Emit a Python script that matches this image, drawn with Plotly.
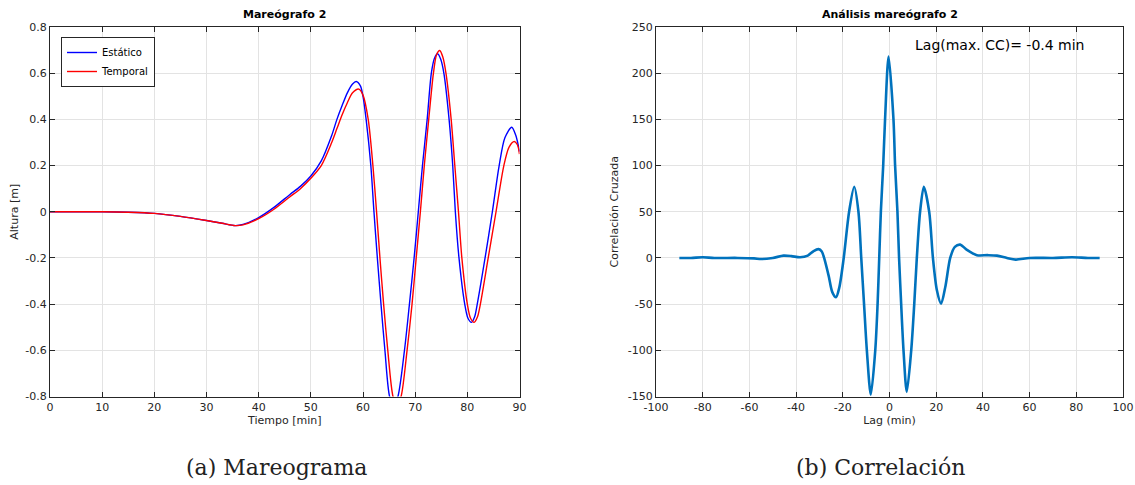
import plotly.graph_objects as go

# ---------------- data: left panel (Mareograma) ----------------
t_estatico = [0, 5, 10, 15, 20, 25, 30, 33, 35.5, 37, 40, 43, 46, 48, 50, 52, 54, 55, 56, 57, 58,
              58.7, 59.5, 60, 60.6, 61.5, 62.1, 62.75, 63.45, 64.2, 65.1, 65.9, 66.7, 67.95, 68.9,
              69.8, 70.6, 71.4, 72.3, 73.1, 73.7, 74.3, 74.9, 75.5, 76.5, 77.2, 77.7, 78.4, 79.5,
              80.1, 80.8, 81.4, 81.9, 83.4, 84.8, 86.1, 87.2, 88.5, 89.3, 90]
h_estatico = [0, 0, 0, -0.002, -0.007, -0.02, -0.038, -0.05, -0.06, -0.055, -0.025, 0.02, 0.075,
              0.11, 0.155, 0.22, 0.33, 0.4, 0.46, 0.515, 0.553, 0.564, 0.545, 0.5, 0.4, 0.2, 0.0,
              -0.2, -0.4, -0.6, -0.8, -0.84, -0.8, -0.6, -0.4, -0.2, 0.0, 0.2, 0.4, 0.6, 0.665,
              0.684, 0.66, 0.6, 0.4, 0.2, 0.0, -0.2, -0.4, -0.46, -0.479, -0.455, -0.4, -0.2, 0.0,
              0.2, 0.32, 0.366, 0.33, 0.26]

t_temporal = [0, 5, 10, 15, 20, 25, 30, 33, 35.5, 37, 40, 43, 46, 48, 50, 52, 54, 55, 56, 57, 58,
              59.2, 60, 61, 61.9, 62.6, 63.25, 63.95, 64.75, 65.75, 66.5, 67.3, 68.45, 69.4, 70.2,
              71.0, 71.75, 72.6, 73.5, 74.1, 74.7, 75.3, 75.9, 76.9, 77.6, 78.3, 78.95, 80.0,
              80.6, 81.3, 81.95, 82.5, 84.0, 85.5, 87.0, 88.0, 89.0, 89.6, 90]
h_temporal = [0, 0, 0, -0.002, -0.007, -0.02, -0.038, -0.05, -0.06, -0.057, -0.03, 0.012, 0.065,
              0.1, 0.145, 0.2, 0.3, 0.36, 0.42, 0.472, 0.515, 0.531, 0.505, 0.4, 0.2, 0.0, -0.2,
              -0.4, -0.6, -0.8, -0.84, -0.8, -0.6, -0.4, -0.2, 0.0, 0.2, 0.4, 0.6, 0.68, 0.698,
              0.67, 0.6, 0.4, 0.2, 0.0, -0.2, -0.4, -0.46, -0.479, -0.455, -0.4, -0.2, 0.0, 0.2,
              0.28, 0.304, 0.29, 0.25]

# ---------------- data: right panel (Correlación) ----------------
lag = [-90, -85, -80, -75, -65, -58, -55, -50, -45.4, -42, -38.3, -35, -32.5, -30.4, -29, -28,
       -26, -24.5, -22.9, -21.5, -19.6, -17.3, -15.1, -13.3, -12.1, -10.9, -9.7, -8.0, -6.1,
       -5.1, -4.4, -3.7, -2.7, -1.9, -0.4, 1.7, 2.4, 3.4, 4.1, 5.0, 6.0, 7.4, 9.3, 10.6, 11.7,
       13.1, 14.7, 17.0, 18.6, 20.3, 22.1, 24.0, 26.0, 28.0, 30.3, 33.0, 37.4, 42, 46, 50.3, 54,
       60, 70, 78.2, 85, 90]
cc = [0, 0, 0.7, 0, 0, -0.5, -1.2, 0, 2.5, 2, 0.7, 2.5, 7.5, 9.5, 7, 0, -20, -37, -42.5, -32, 0,
      50, 77, 50, 0, -50, -100, -148, -100, -50, 0, 50, 100, 150, 218, 150, 100, 50, 0, -50, -100,
      -145, -100, -50, 0, 50, 77, 50, 0, -35, -49.6, -30, 0, 12, 14.4, 9, 3, 3, 2.5, 0, -1.8, 0,
      0, 0.7, 0, 0]

# ---------------- ticks / texts ----------------
x1_ticks = [0, 10, 20, 30, 40, 50, 60, 70, 80, 90]
y1_ticks = [-0.8, -0.6, -0.4, -0.2, 0, 0.2, 0.4, 0.6, 0.8]
y1_labels = ["-0.8", "-0.6", "-0.4", "-0.2", "0", "0.2", "0.4", "0.6", "0.8"]
x2_ticks = [-100, -80, -60, -40, -20, 0, 20, 40, 60, 80, 100]
x2_labels = ["-100", "-80", "-60", "-40", "-20", "0", "20", "40", "60", "80", "100"]
y2_ticks = [-150, -100, -50, 0, 50, 100, 150, 200, 250]
y2_labels = ["-150", "-100", "-50", "0", "50", "100", "150", "200", "250"]

W, H = 1135, 485
AX = "#262626"
GRID = "#e3e3e3"
FONT = "DejaVu Sans"

fig = go.Figure()
fig.add_trace(go.Scatter(x=t_estatico, y=h_estatico, mode="lines", name="Estático",
                         line=dict(color="#0000ff", width=1.4, shape="spline", smoothing=0.8),
                         xaxis="x", yaxis="y"))
fig.add_trace(go.Scatter(x=t_temporal, y=h_temporal, mode="lines", name="Temporal",
                         line=dict(color="#ff0000", width=1.4, shape="spline", smoothing=0.8),
                         xaxis="x", yaxis="y"))
fig.add_trace(go.Scatter(x=lag, y=cc, mode="lines", name="CC", showlegend=False,
                         line=dict(color="#0072bd", width=2.6, shape="spline", smoothing=0.8),
                         xaxis="x2", yaxis="y2"))

yb, yt = 1 - 396.5 / H, 1 - 27 / H
axcommon = dict(showline=True, linecolor=AX, linewidth=1, mirror="ticks", ticks="inside",
                ticklen=5, tickcolor=AX, showgrid=True, gridcolor=GRID, gridwidth=1,
                zeroline=False, automargin=False,
                tickfont=dict(family=FONT, size=11, color=AX),
                title_font=dict(family=FONT, size=11, color=AX))

fig.update_layout(
    width=W, height=H, margin=dict(l=0, r=0, t=0, b=0, autoexpand=False),
    paper_bgcolor="white", plot_bgcolor="white",
    xaxis=dict(domain=[50 / W, 519.5 / W], range=[0, 90], tickvals=x1_ticks,
               title=dict(text="Tiempo [min]", standoff=3), anchor="y", **axcommon),
    yaxis=dict(domain=[yb, yt], range=[-0.8, 0.8], tickvals=y1_ticks, ticktext=y1_labels,
               title=dict(text="Altura [m]", standoff=4), anchor="x", **axcommon),
    xaxis2=dict(domain=[656 / W, 1123 / W], range=[-100, 100], tickvals=x2_ticks,
                ticktext=x2_labels, title=dict(text="Lag (min)", standoff=3), anchor="y2",
                **axcommon),
    yaxis2=dict(domain=[yb, yt], range=[-150, 250], tickvals=y2_ticks, ticktext=y2_labels,
                title=dict(text="Correlación Cruzada", standoff=6), anchor="x2", **axcommon),
    showlegend=True,
    legend=dict(x=61 / W, y=1 - 37 / H, xanchor="left", yanchor="top", bgcolor="white",
                bordercolor=AX, borderwidth=1, font=dict(family=FONT, size=10, color="black"),
                itemwidth=30, tracegroupgap=0),
    annotations=[
        dict(text="<b>Mareógrafo 2</b>", x=(50 + 519.5) / 2 / W, y=1 - 23 / H, xref="paper",
             yref="paper", xanchor="center", yanchor="bottom", showarrow=False,
             font=dict(family=FONT, size=11, color="black")),
        dict(text="<b>Análisis mareógrafo 2</b>", x=(656 + 1123) / 2 / W, y=1 - 23 / H,
             xref="paper", yref="paper", xanchor="center", yanchor="bottom", showarrow=False,
             font=dict(family=FONT, size=11, color="black")),
        dict(text="Lag(max. CC)= -0.4 min", x=913 / W, y=1 - 45 / H, xref="paper",
             yref="paper", xanchor="left", yanchor="middle", showarrow=False,
             font=dict(family=FONT, size=14, color="black")),
        dict(text="(a) Mareograma", x=276 / W, y=1 - 467 / H, xref="paper", yref="paper",
             xanchor="center", yanchor="middle", showarrow=False,
             font=dict(family="DejaVu Serif", size=22, color="#222222")),
        dict(text="(b) Correlación", x=880 / W, y=1 - 467 / H, xref="paper", yref="paper",
             xanchor="center", yanchor="middle", showarrow=False,
             font=dict(family="DejaVu Serif", size=22, color="#222222")),
    ],
)

fig.write_html("out.html", config={"displayModeBar": False},
               post_script="document.body.style.margin='0';document.body.style.overflow='hidden';")
